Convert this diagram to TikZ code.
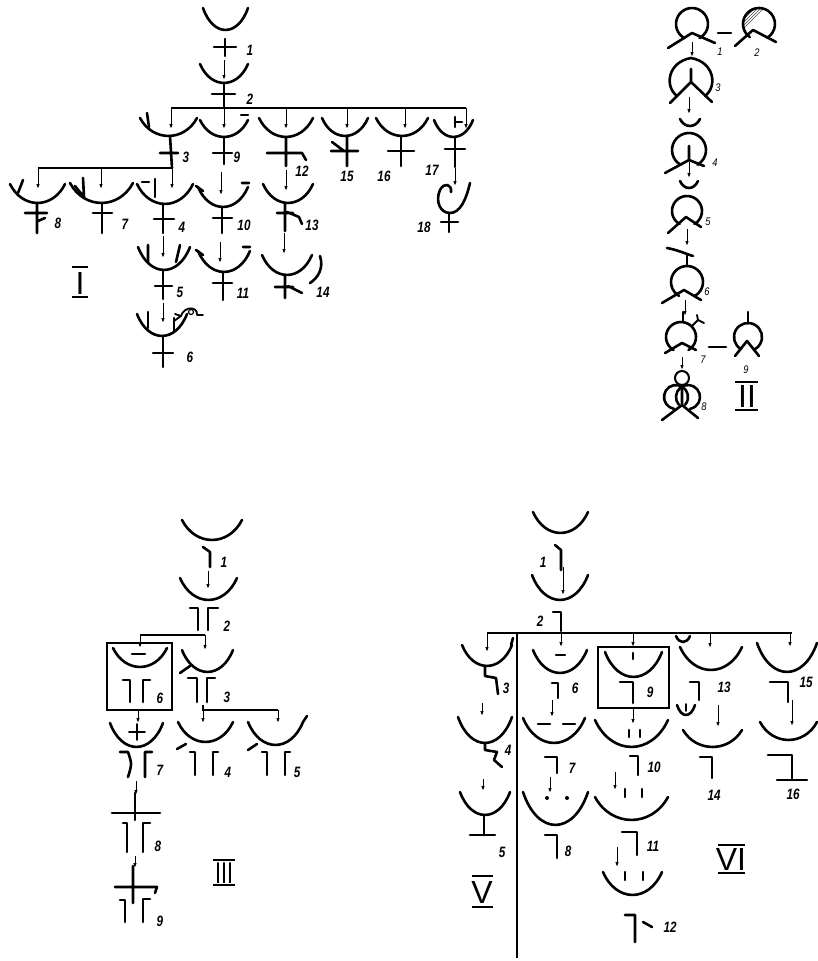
\documentclass[tikz,border=0pt]{standalone}
\usepackage{fontspec}
\setmainfont{Liberation Sans}
\usetikzlibrary{arrows.meta,patterns}
\newcommand\cupp[4]{\draw[gl] (#1,#3) .. controls ({0.775*#1+0.225*#2},{#3+1.33*(#4-#3)}) and ({0.225*#1+0.775*#2},{#3+1.33*(#4-#3)}) .. (#2,#3);}
\begin{document}
\begin{tikzpicture}[x=1pt,y=-1pt,
 gl/.style={line width=2.6pt,line cap=round,line join=round},
 th/.style={line width=2.4pt},
 arr/.style={line width=1pt,-{Latex[length=5pt,width=3.5pt]}},
 bus/.style={line width=1.6pt},
 lab/.style={font=\fontsize{15}{15}\selectfont\bfseries\itshape,inner sep=0pt,xscale=0.78},
 labs/.style={font=\fontsize{11}{11}\selectfont\itshape,inner sep=0pt,xscale=0.85},
 rom/.style={font=\fontsize{32}{32}\selectfont,inner sep=0pt,anchor=base}]
\useasboundingbox (0,0) rectangle (818,961);
% ================= Section I =================
\cupp{203}{248}{8}{30}
\draw[gl] (225,39)--(225,56) (214,47)--(236,47);
\node[lab] (i1) at (250,50) {1};
\draw[arr] (224,60)--(224,80);
\cupp{200}{248}{64}{83}
\draw[gl] (224,83)--(224,108) (212,94)--(235,94);
\node[lab] (i2) at (250,99) {2};
\draw[bus] (171,108)--(466,108);
\foreach \x in {171,224,286,347,405,466} \draw[arr] (\x,108)--(\x,129);
% row 2
\cupp{140}{197}{118}{136} \draw[gl] (147,113)--(149,127);
\draw[gl] (170,136)--(172,168) (160,153)--(178,153);
\node[lab] (i3) at (186,157) {3};
\cupp{200}{248}{120}{137} \draw[gl] (241,115)--(248,115);
\draw[gl] (224,137)--(224,164) (213,153)--(232,153);
\node[lab] (i9) at (237,157) {9};
\cupp{259}{313}{118}{137}
\draw[gl] (286,137)--(286,166) (267,153)--(302,153)--(306,160);
\node[lab] (i12) at (302,171) {12};
\cupp{322}{368}{118}{136}
\draw[gl] (347,136)--(347,166) (331,151)--(358,151) (332,142)--(344,151);
\node[lab] (i15) at (347,176) {15};
\cupp{376}{428}{118}{136}
\draw[gl] (401,136)--(401,166) (388,151)--(414,151);
\node[lab] (i16) at (384,176) {16};
\cupp{434}{473}{120}{137}
\draw[gl] (455,117)--(455,127) (455,122)--(462,122);
\draw[gl] (455,137)--(455,167) (445,149)--(465,149);
\node[lab] (i17) at (432,170) {17};
\draw[arr] (455,168)--(455,186);
\draw[gl] (451,192) .. controls (452,184) and (444,182) .. (440,190) .. controls (435,201) and (440,213) .. (450,213) .. controls (460,213) and (466,200) .. (470,183);
\draw[gl] (449,213)--(449,232) (441,222)--(458,222);
\node[lab] (i18) at (424,227) {18};
% second bus
\draw[bus] (38,168)--(172,168);
\foreach \x in {38,101,172} \draw[arr] (\x,168)--(\x,189);
% row 3
\cupp{10}{65}{184}{203} \draw[gl] (23,180)--(18,193);
\draw[gl] (37,203)--(37,233) (25,213)--(47,213) (38,221)--(45,218);
\node[lab] (i8) at (58,223) {8};
\cupp{70}{133}{183}{203} \draw[gl] (83,178)--(84,197) (75,186)--(83,196);
\draw[gl] (102,203)--(102,233) (93,213)--(112,213);
\node[lab] (i7) at (125,224) {7};
\cupp{137}{193}{184}{204} \draw[gl] (142,182)--(149,182) (155,179)--(155,197);
\draw[gl] (163,204)--(163,233) (154,219)--(174,219);
\node[lab] (i4) at (182,227) {4};
\draw[arr] (221,172)--(221,195);
\cupp{198}{248}{187}{207} \draw[gl] (196,186)--(203,191) (242,183)--(249,183);
\draw[gl] (222,207)--(222,233) (213,218)--(232,218);
\node[lab] (i10) at (244,225) {10};
\draw[arr] (286,170)--(286,191);
\cupp{263}{313}{184}{203}
\draw[gl] (285,203)--(285,231) (277,213)--(293,213) (287,212)--(299,217)--(302,224);
\node[lab] (i13) at (312,225) {13};
% row 4
\draw[arr] (163,236)--(163,258);
\cupp{138}{190}{247}{270} \draw[gl] (148,245)--(148,262) (180,245)--(176,262);
\draw[gl] (163,270)--(163,299) (155,286)--(172,286);
\node[lab] (i5) at (180,292) {5};
\draw[arr] (220,242)--(220,263);
\cupp{198}{250}{251}{272} \draw[gl] (196,250)--(203,255) (243,247)--(250,247);
\draw[gl] (223,272)--(223,300) (213,283)--(232,283);
\node[lab] (i11) at (243,293) {11};
\draw[arr] (284,233)--(284,254);
\cupp{262}{312}{255}{275} \draw[gl] (320,256) .. controls (324,268) and (318,278) .. (310,283);
\draw[gl] (285,275)--(285,298) (275,287)--(293,287) (288,286)--(302,293);
\node[lab] (i14) at (323,292) {14};
\node[rom] (r1) at (80,294) {I};
\draw[th] (72,267)--(88,267) (72,297)--(88,297);
% row 5
\draw[arr] (163,303)--(163,323);
\cupp{137}{187}{314}{336}
\draw[gl] (148,312)--(148,328) (174,318)--(174,332);
\draw[gl,line width=1.8pt] (174,321)--(181,316)--(175,314) (181,316) .. controls (184,306) and (198,306) .. (197,315) -- (203,315);
\draw[line width=1.2pt] (191,312) circle (2.5);
\draw[gl] (163,336)--(163,367) (153,353)--(173,353);
\node[lab] (i6) at (190,357) {6};
% ================= Section II =================
\draw[gl] (692,24) ++(118:16) arc (118:422:16);
\draw[gl] (668,48)--(692,33)--(715,43);
\node[labs] (ii1) at (720,52) {1};
\draw[gl] (718,33)--(731,33);
\fill[pattern=north east lines,pattern color=black!70] (759,24) ++(160:16) arc (160:290:16) -- cycle;
\draw[gl] (759,24) ++(125:16) arc (125:420:16);
\draw[gl] (735,46)--(753,30)--(776,42);
\node[labs] (ii2) at (757,53) {2};
\draw[arr] (692,42)--(692,57);
\draw[gl] (677,96) .. controls (664,86) and (668,62) .. (691,58) .. controls (714,62) and (718,86) .. (705,96);
\draw[gl] (691,69)--(691,82) (670,103)--(691,82)--(712,102);
\node[labs] (ii3) at (718,88) {3};
\draw[arr] (689,97)--(689,114);
\cupp{680}{700}{119}{126}
\draw[gl] (689,150) ++(120:17) arc (120:420:17);
\draw[gl] (689,146)--(689,160) (665,173)--(689,160)--(704,166);
\node[labs] (ii4) at (715,163) {4};
\draw[arr] (689,162)--(689,178);
\cupp{680}{698}{181}{188}
\draw[gl] (687,211) ++(120:15) arc (120:420:15);
\draw[gl] (668,233)--(686,217)--(701,227);
\node[labs] (ii5) at (708,222) {5};
\draw[arr] (687,229)--(687,246);
\draw[gl] (667,248) .. controls (678,250) and (686,254) .. (693,256);
\draw[gl] (687,255)--(687,266);
\draw[gl] (687,282) ++(120:16) arc (120:420:16);
\draw[gl] (662,303)--(684,290)--(701,300);
\node[labs] (ii6) at (707,292) {6};
\draw[arr] (685,300)--(685,316);
\draw[gl] (683,312)--(683,322);
\draw[gl] (681,337) ++(120:15) arc (120:420:15);
\draw[gl,line width=1.8pt] (692,326)--(698,320)--(704,323) (698,320)--(697,315);
\draw[gl] (665,353)--(682,343)--(696,350);
\node[labs] (ii7) at (703,360) {7};
\draw[gl] (709,347)--(726,347);
\draw[gl] (748,312)--(748,323);
\draw[gl] (748,337) ++(120:14) arc (120:420:14);
\draw[gl] (735,356)--(747,341)--(759,356);
\node[labs] (ii9) at (746,370) {9};
\draw[arr] (682,357)--(682,370);
\draw[gl,line width=2pt] (682,378) circle (7);
\draw[gl] (676,397) ++(100:12) arc (100:400:12);
\draw[gl] (688,397) ++(140:12) arc (140:440:12);
\draw[gl] (682,385)--(682,405) (662,420)--(682,405)--(698,418);
\node[labs] (ii8) at (704,407) {8};
\node[rom] (r2) at (747,407) {II};
\draw[th] (735,382)--(758,382) (735,410)--(758,410);
% ================= Section III =================
\cupp{182}{242}{520}{540}
\draw[gl] (203,547)--(210,552)--(210,567);
\node[lab] (t1) at (224,562) {1};
\draw[arr] (208,571)--(208,589);
\cupp{180}{237}{578}{600}
\draw[gl] (190,608)--(198,608)--(198,630) (208,630)--(208,608)--(218,608);
\node[lab] (t2) at (227,626) {2};
\draw[bus] (140,635)--(205,635);
\draw[arr] (140,635)--(140,648);
\draw[arr] (205,635)--(205,650);
\draw[line width=1.8pt] (107,643) rectangle (172,710);
\cupp{113}{167}{648}{667} \draw[gl] (132,654)--(145,654);
\draw[gl] (123,680)--(130,680)--(130,702) (143,702)--(143,680)--(150,680);
\node[lab] (t6) at (160,698) {6};
\cupp{182}{233}{650}{672} \draw[gl] (180,673)--(190,666);
\draw[gl] (188,678)--(197,678)--(197,702) (207,702)--(207,678)--(215,678);
\node[lab] (t3) at (227,697) {3};
\draw[arr] (138,710)--(138,723);
\draw[bus] (203,705)--(203,710)--(278,710);
\draw[arr] (203,710)--(203,723);
\draw[arr] (278,710)--(278,723);
\cupp{110}{163}{723}{747} \draw[gl,line width=1.6pt] (137,724)--(137,740) (129,732)--(145,732);
\draw[gl] (120,752)--(128,752) .. controls (132,764) .. (128,777) (145,777)--(145,752)--(152,752);
\node[lab] (t7) at (160,770) {7};
\cupp{178}{233}{722}{742} \draw[gl] (177,749)--(186,744);
\draw[gl] (190,752)--(195,752)--(195,775) (213,775)--(213,752)--(218,752);
\node[lab] (t4) at (228,772) {4};
\cupp{248}{303}{722}{745} \draw[gl] (303,722)--(307,716) (248,750)--(257,744);
\draw[gl] (262,752)--(267,752)--(267,775) (285,775)--(285,752)--(290,752);
\node[lab] (t5) at (297,772) {5};
\draw[arr] (136,781)--(136,795);
\draw[gl] (135,793)--(135,820) (112,813)--(160,813);
\draw[gl] (123,823)--(127,823)--(127,852) (143,852)--(143,823)--(150,823);
\node[lab] (t8) at (158,846) {8};
\draw[arr] (135,856)--(135,868);
\draw[gl] (133,866)--(133,903) (115,887)--(157,887)--(155,893);
\draw[gl] (120,900)--(125,900)--(125,922) (143,922)--(143,899)--(150,899);
\node[lab] (t9) at (160,921) {9};
\node[rom,xscale=0.72,font=\fontsize{30}{30}\selectfont] (r3) at (224,883) {III};
\draw[th] (213,860)--(235,860) (213,885)--(235,885);
% ================= Sections V / VI =================
\cupp{533}{588}{512}{533}
\draw[gl] (555,545)--(561,550)--(561,570);
\node[lab] (v1) at (543,562) {1};
\draw[arr] (563,567)--(563,595);
\cupp{532}{588}{575}{600}
\node[lab] (v2) at (540,621) {2};
\draw[gl] (553,612)--(561,612)--(561,631);
\draw[bus] (487,633)--(792,633);
\draw[line width=1.8pt] (517,633)--(517,958);
\foreach \x/\y in {487/652,561/647,633/647,710/648,790/647} \draw[arr] (\x,633)--(\x,\y);
% V
\cupp{462}{512}{645}{666} \draw[gl] (511,645)--(513,638);
\draw[gl] (485,666)--(485,676)--(496,678)--(498,694);
\node[lab] (v3) at (506,688) {3};
\draw[arr] (482,703)--(482,716);
\cupp{458}{512}{717}{743}
\draw[gl] (485,743)--(485,750)--(497,752)--(494,760)--(502,767);
\node[lab] (v4) at (508,750) {4};
\draw[arr] (483,779)--(483,791);
\cupp{460}{510}{792}{815}
\draw[gl] (484,815)--(484,835) (470,835)--(495,835);
\node[lab] (v5) at (502,852) {5};
\node[rom] (r5) at (482,903) {V};
\draw[th] (472,876)--(493,876) (472,907)--(493,907);
% VI column 6-8
\cupp{533}{587}{650}{673} \draw[gl] (556,655)--(565,655);
\draw[gl] (552,683)--(558,683)--(558,698);
\node[lab] (v6) at (575,688) {6};
\draw[arr] (552,700)--(552,717);
\cupp{523}{585}{718}{743} \draw[gl] (538,724)--(550,724) (563,724)--(575,724);
\draw[gl] (545,757)--(557,757)--(557,773);
\node[lab] (v7) at (572,768) {7};
\draw[arr] (550,777)--(550,793);
\cupp{523}{588}{792}{825}
\fill (547,798) circle (2) (567,798) circle (2);
\draw[gl] (545,835)--(557,835)--(557,858);
\node[lab] (v8) at (568,851) {8};
% column 9-12
\draw[line width=1.8pt] (598,647) rectangle (669,708);
\cupp{605}{662}{652}{677} \draw[gl] (633,653)--(633,659);
\draw[gl] (620,682)--(633,682)--(633,703);
\node[lab] (v9) at (650,692) {9};
\draw[arr] (633,708)--(633,724);
\cupp{595}{668}{720}{747} \draw[gl] (629,730)--(629,737) (640,730)--(640,737);
\draw[gl] (630,756)--(638,756)--(638,775);
\node[lab] (v10) at (654,767) {10};
\draw[arr] (615,772)--(615,790);
\cupp{595}{668}{797}{820} \draw[gl] (625,789)--(625,797) (642,789)--(642,797);
\draw[gl] (622,832)--(637,832)--(637,855);
\node[lab] (v11) at (653,846) {11};
\draw[arr] (617,847)--(617,867);
\cupp{603}{662}{872}{895} \draw[gl] (625,872)--(625,880) (643,872)--(643,880);
\draw[gl] (625,915)--(635,915)--(635,942) (643,922)--(652,927);
\node[lab] (v12) at (670,927) {12};
% column 13-14
\cupp{676}{690}{636}{642}
\cupp{680}{742}{647}{670}
\draw[gl] (690,682)--(699,682)--(699,700);
\node[lab] (v13) at (724,687) {13};
\cupp{677}{695}{705}{715} \draw[gl,line width=1.8pt] (686,704)--(686,711);
\draw[arr] (718,705)--(718,727);
\cupp{683}{742}{730}{747}
\draw[gl] (700,757)--(712,757)--(712,778);
\node[lab] (v14) at (714,795) {14};
% column 15-16
\cupp{757}{817}{643}{672}
\draw[gl] (770,682)--(788,682)--(788,702);
\node[lab] (v15) at (806,682) {15};
\draw[arr] (792,700)--(792,726);
\cupp{760}{817}{722}{740}
\draw[gl] (768,755)--(792,755)--(792,780) (777,780)--(807,780);
\node[lab] (v16) at (793,794) {16};
\node[rom] (r6) at (731,870) {VI};
\draw[th] (718,845)--(745,845) (718,873)--(745,873);
\end{tikzpicture}
\end{document}
